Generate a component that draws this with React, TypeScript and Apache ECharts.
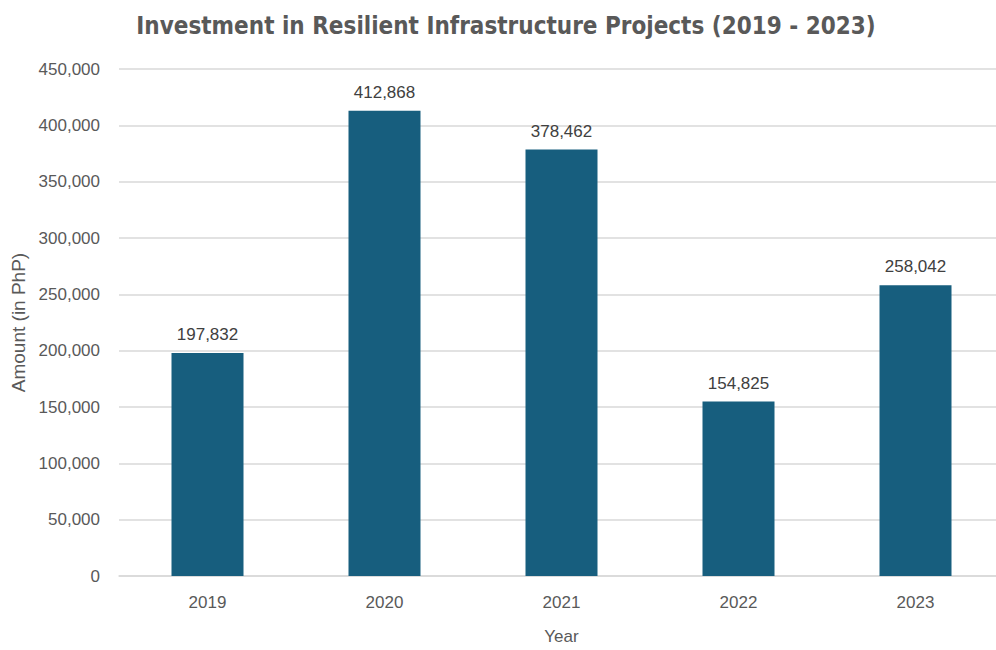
import React, { useEffect, useRef } from "react";
import * as echarts from "echarts";

const years = ["2019", "2020", "2021", "2022", "2023"];
const amounts = [197832, 412868, 378462, 154825, 258042];
const titleText = "Investment in Resilient Infrastructure Projects (2019 - 2023)";
const yAxisTitle = "Amount (in PhP)";
const xAxisTitle = "Year";

const fmt = (v: number) => v.toLocaleString("en-US");
const baseFont = "'Liberation Sans', Arial, sans-serif";

export default function App() {
  const ref = useRef<HTMLDivElement>(null);
  useEffect(() => {
    if (!ref.current) return;
    const chart = echarts.init(ref.current, undefined, { renderer: "svg" });
    chart.setOption({
      animation: false,
      backgroundColor: "#ffffff",
      title: {
        text: titleText,
        left: 501,
        top: 9,
        textAlign: "center",
        textStyle: {
          fontFamily: "'DejaVu Sans Condensed', 'Liberation Sans Narrow', Arial, sans-serif",
          fontWeight: "bold",
          fontSize: 24,
          color: "#595959",
        },
      },
      grid: { left: 119, top: 69, width: 885, height: 512, containLabel: false },
      xAxis: {
        type: "category",
        data: years,
        name: xAxisTitle,
        nameLocation: "middle",
        nameGap: 52,
        nameTextStyle: { fontFamily: baseFont, fontSize: 17, color: "#595959" },
        axisLine: { show: true, lineStyle: { color: "#D9D9D9", width: 1.5 } },
        axisTick: { show: false },
        axisLabel: { fontFamily: baseFont, fontSize: 17, color: "#595959", margin: 18 },
      },
      yAxis: {
        type: "value",
        min: 0,
        max: 450000,
        interval: 50000,
        name: yAxisTitle,
        nameLocation: "middle",
        nameGap: 89,
        nameRotate: 90,
        nameTextStyle: { fontFamily: baseFont, fontSize: 19, color: "#595959" },
        axisLine: { show: false },
        axisTick: { show: false },
        splitLine: { lineStyle: { color: "#D9D9D9", width: 1.5 } },
        axisLabel: {
          fontFamily: baseFont,
          fontSize: 17,
          color: "#595959",
          margin: 19,
          formatter: (v: number) => fmt(v),
        },
      },
      series: [
        {
          type: "bar",
          data: amounts,
          barWidth: 72,
          itemStyle: { color: "#175E7E" },
          label: {
            show: true,
            position: "top",
            distance: 10,
            fontFamily: baseFont,
            fontSize: 17,
            color: "#404040",
            formatter: (p: any) => fmt(p.value),
          },
        },
      ],
    });
    return () => chart.dispose();
  }, []);
  return (
    <div
      style={{
        position: "fixed",
        left: 0,
        top: 0,
        width: 996,
        height: 650,
        overflow: "hidden",
        background: "#ffffff",
      }}
    >
      <div ref={ref} style={{ width: 1010, height: 650 }} />
    </div>
  );
}
